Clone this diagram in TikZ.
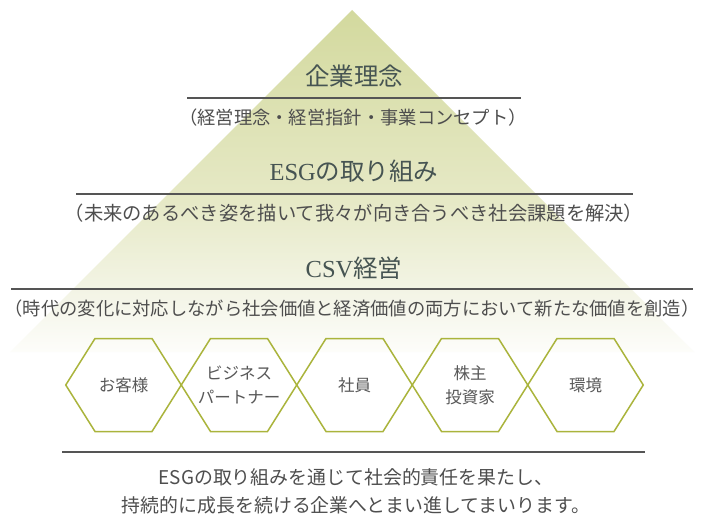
\documentclass[tikz,border=0pt]{standalone}
\usepackage{fontspec}
\setmainfont{Noto Sans CJK JP}
\newfontfamily\latinserif{Liberation Serif}
\definecolor{titlec}{RGB}{70,84,82}
\definecolor{subc}{RGB}{78,78,78}
\definecolor{rulec}{RGB}{85,85,85}
\definecolor{hexc}{RGB}{170,180,60}
\definecolor{hextext}{RGB}{88,88,88}
\definecolor{triA}{RGB}{211,217,158}
\definecolor{triB}{RGB}{230,233,198}
\definecolor{triC}{RGB}{245,246,234}
\definecolor{triD}{RGB}{253,253,250}
\pgfdeclareverticalshading{pyramidshade}{100bp}{color(0bp)=(triD); color(25bp)=(triD); color(32bp)=(triC); color(47bp)=(triB); color(75bp)=(triA); color(100bp)=(triA)}
\begin{document}
\begin{tikzpicture}[x=1pt,y=-1pt,
  title/.style={text=titlec,font=\fontsize{24.5}{28}\selectfont,inner sep=0pt},
  subtitle/.style={text=subc,inner sep=0pt},
  rulel/.style={draw=rulec,line width=1.1pt},
  hexline/.style={draw=hexc,line width=1.5pt,line join=miter},
  hexlabel/.style={text=hextext,font=\fontsize{16.5}{24}\selectfont,align=center,inner sep=0pt},
  closing/.style={text=subc,font=\fontsize{18.9}{28}\selectfont,align=center,inner sep=0pt}]
\useasboundingbox (0,0) rectangle (703,524);
\fill[white] (0,0) rectangle (703,524);
% pyramid
\shade[shading=pyramidshade] (352,10) -- (694,352) -- (10,352) -- cycle;
% tier 1
\node[title] (t1) at (354,76) {企業理念};
\coordinate (r1a) at (187,98); \coordinate (r1b) at (521,98);
\draw[rulel] (r1a) -- (r1b);
\node[subtitle,font=\fontsize{18.3}{20}\selectfont] (s1) at (353,118) {（経営理念・経営指針・事業コンセプト）};
% tier 2
\node[title] (t2) at (354,171) {{\latinserif ESG}の取り組み};
\coordinate (r2a) at (76,194); \coordinate (r2b) at (633,194);
\draw[rulel] (r2a) -- (r2b);
\node[subtitle,font=\fontsize{19.3}{22}\selectfont] (s2) at (354,213) {（未来のあるべき姿を描いて我々が向き合うべき社会課題を解決）};
% tier 3
\node[title] (t3) at (354,268) {{\latinserif CSV}経営};
\coordinate (r3a) at (11,289); \coordinate (r3b) at (693,289);
\draw[rulel] (r3a) -- (r3b);
\node[subtitle,font=\fontsize{18.3}{22}\selectfont] (s3) at (352,309) {（時代の変化に対応しながら社会価値と経済価値の両方において新たな価値を創造）};
% hexagons
\foreach \cx/\nm/\txt in {123.5/h1/お客様,239/h2/ビジネス\\パートナー,354.5/h3/社員,470/h4/株主\\投資家,585.5/h5/環境}{
  \draw[hexline] (\cx-57.75,385) -- (\cx-28.5,338.5) -- (\cx+28.5,338.5) -- (\cx+57.75,385) -- (\cx+28.5,431.5) -- (\cx-28.5,431.5) -- cycle;
  \node[hexlabel] (\nm) at (\cx,385) {\txt};
}
% closing
\coordinate (r4a) at (62,452); \coordinate (r4b) at (645,452);
\draw[rulel] (r4a) -- (r4b);
\node[closing] (c1) at (356,491) {ESGの取り組みを通じて社会的責任を果たし、\\持続的に成長を続ける企業へとまい進してまいります。};
\end{tikzpicture}
\end{document}
